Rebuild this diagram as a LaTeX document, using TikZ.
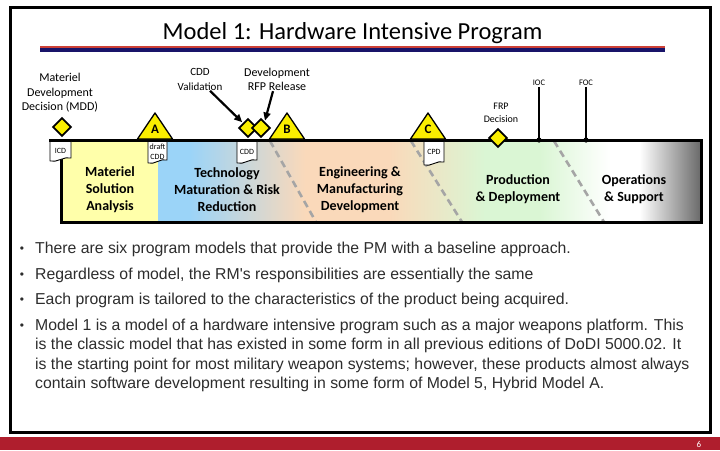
\documentclass[tikz,border=0pt]{standalone}
\usepackage{fontspec}
\setmainfont{Carlito}
\newfontfamily\arialf{Liberation Sans}
\usetikzlibrary{shapes.geometric,arrows.meta}
\definecolor{ylw}{RGB}{255,255,170}
\definecolor{msk}{RGB}{250,238,0}
\definecolor{blu}{RGB}{155,212,248}
\definecolor{pch}{RGB}{250,217,186}
\definecolor{grn}{RGB}{218,246,212}
\definecolor{dgry}{RGB}{105,105,105}
\definecolor{dashcol}{RGB}{165,165,165}
\definecolor{ttlred}{RGB}{205,65,55}
\definecolor{ttlnavy}{RGB}{25,20,105}
\definecolor{footred}{RGB}{175,30,45}
\definecolor{txtgray}{RGB}{45,45,45}
\tikzset{
  dashline/.style={draw=dashcol, line width=2.6pt, dash pattern=on 7pt off 4.5pt},
  flagstyle/.style={fill=white, draw=black, line width=0.9pt, line join=round},
  flagtxt/.style={font=\fontsize{8}{10}\selectfont, inner sep=0pt, align=center},
  tri/.style={fill=msk, draw=black, line width=1.3pt, line join=round},
  trilabel/.style={font=\bfseries\fontsize{13}{14}\selectfont, inner sep=0pt},
  ms/.style={diamond, aspect=1, draw=black, fill=msk, line width=1.8pt, minimum width=18.5pt, minimum height=18.5pt, inner sep=0pt},
  lbl/.style={font=\fontsize{12}{14.5}\selectfont, align=center, inner sep=0pt},
  lblsm/.style={font=\fontsize{11}{15}\selectfont, align=center, inner sep=0pt},
  lblfrp/.style={font=\fontsize{10}{13}\selectfont, align=center, inner sep=0pt},
  lbltiny/.style={font=\fontsize{8.5}{10}\selectfont, inner sep=1pt},
  arr/.style={line width=2.2pt, -{Triangle[length=8pt,width=7pt]}, shorten >=1pt},
  phase/.style={font=\bfseries\fontsize{14}{17}\selectfont, align=center, inner sep=0pt},
  phase2/.style={font=\bfseries\fontsize{14}{16.5}\selectfont, align=center, inner sep=0pt},
  bul/.style={font=\arialf\fontsize{15.8}{19}\selectfont, text=txtgray, anchor=base west, inner sep=0pt},
  buldot/.style={font=\arialf\fontsize{12}{14}\selectfont, text=txtgray, anchor=base, inner sep=0pt}
}
\newcommand\mkflag[3]{\draw[flagstyle] (#1,141.5) -- (#2,141.5) -- (#2,{#3-3}) .. controls ({#2-7},{#3-5}) and ({#1+7},{#3+2}) .. (#1,#3) -- cycle;}
\begin{document}
\begin{tikzpicture}[x=1pt,y=-1pt]
\useasboundingbox (0,0) rectangle (720,450);
\fill[white] (0,0) rectangle (720,450);
% frame and footer
\draw[line width=3pt] (10,7.5) rectangle (710,432);
\fill[footred] (0,437) rectangle (720,450);
\node[white, font=\fontsize{9}{10}\selectfont, inner sep=0pt] (pg) at (699,444) {6};
% title
\node[font=\fontsize{24.5}{28}\selectfont, anchor=base, inner sep=0pt] (title) at (352.5,39) {Model 1: Hardware Intensive Program};
\fill[ttlred] (40,45.5) rectangle (665,48);
\fill[ttlnavy] (40,48) rectangle (665,52);
% band fills
\fill[ylw] (61,140) rectangle (158,222);
\fill[blu] (158,140) rectangle (190,222);
\shade[left color=blu, right color=pch] (189.5,140) rectangle (305,222);
\fill[pch] (304.5,140) rectangle (390,222);
\shade[left color=pch, right color=grn] (389.5,140) rectangle (485,222);
\fill[grn] (484.5,140) rectangle (540,222);
\shade[left color=grn, right color=white] (539.5,140) rectangle (610,222);
\fill[white] (609.5,140) rectangle (640,222);
\shade[left color=white, right color=dgry] (639.5,140) rectangle (701,222);
% dashed phase separators
\draw[dashline] (270,141) -- (316,222);
\draw[dashline] (411,141) -- (462,222);
\draw[dashline] (554,141) -- (604,222);
% band outline
\draw[line width=3pt, line join=miter] (49,140) -- (701,140) -- (701,222) -- (61,222) -- (61,156);
% flags
\mkflag{50}{71}{161}
\mkflag{148}{167}{163}
\mkflag{237}{257}{163}
\mkflag{424}{444}{165}
\node[flagtxt] (icd) at (60.5,151) {ICD};
\node[flagtxt] (dcdd) at (157.5,151.5) {draft\\CDD};
\node[flagtxt] (cddf) at (247,152) {CDD};
\node[flagtxt] (cpd) at (434,152) {CPD};
% triangles
\draw[tri] (155,113) -- (172.5,139) -- (137.5,139) -- cycle;
\node[trilabel] (msA) at (155,129) {A};
\draw[tri] (287,113) -- (304.5,139) -- (269.5,139) -- cycle;
\node[trilabel] (msB) at (287,129) {B};
\draw[tri] (428,113) -- (445.5,139) -- (410.5,139) -- cycle;
\node[trilabel] (msC) at (428,129) {C};
% diamonds
\node[ms] (mdd) at (62,127) {};
\node[ms] (cddv) at (248,128) {};
\node[ms] (rfp) at (261,128) {};
\node[ms] (frp) at (498,138) {};
% labels
\node[lbl] (mddlbl) at (60,93) {Materiel\\Development\\Decision (MDD)};
\node[lblsm] (cddlbl) at (200,79.5) {CDD\\Validation};
\node[lbl] (rfplbl) at (277,79.5) {Development\\RFP Release};
\node[lblfrp] (frplbl) at (501,112.5) {FRP\\Decision};
\draw[arr] ([xshift=10pt]cddlbl.south) -- (cddv.north west);
\draw[arr] ([xshift=-4pt]rfplbl.south) -- (rfp.60);
% IOC / FOC
\node[lbltiny] (ioc) at (539,83) {IOC};
\node[lbltiny] (foc) at (586,83) {FOC};
\coordinate (iocpt) at (539,140);
\coordinate (focpt) at (586,140);
\draw[line width=1.6pt] (ioc.south) -- (iocpt);
\draw[line width=1.6pt] (foc.south) -- (focpt);
\fill (iocpt) circle (2.6);
\fill (focpt) circle (2.6);
% phase names
\node[phase] (msa) at (110,190) {Materiel\\Solution\\Analysis};
\node[phase] (tmrr) at (227,190) {Technology\\Maturation \& Risk\\Reduction};
\node[phase] (emd) at (360,190) {Engineering \&\\Manufacturing\\Development};
\node[phase2] (pd) at (518,189) {Production\\\& Deployment};
\node[phase2] (os) at (634,189) {Operations\\\& Support};
% bullets
\node[buldot] (d1) at (22,252) {•};
\node[buldot] (d2) at (22,278) {•};
\node[buldot] (d3) at (22,303) {•};
\node[buldot] (d4) at (22,329) {•};
\node[bul] (t1) at (35,253) {There are six program models that provide the PM with a baseline approach.};
\node[bul] (t2) at (35,279) {Regardless of model, the RM's responsibilities are essentially the same};
\node[bul] (t3) at (35,304) {Each program is tailored to the characteristics of the product being acquired.};
\node[bul] (t4a) at (35,330) {Model 1 is a model of a hardware intensive program such as a major weapons platform. This};
\node[bul] (t4b) at (35,349.5) {is the classic model that has existed in some form in all previous editions of DoDI 5000.02. It};
\node[bul] (t4c) at (35,369) {is the starting point for most military weapon systems; however, these products almost always};
\node[bul] (t4d) at (35,388.5) {contain software development resulting in some form of Model 5, Hybrid Model A.};
\end{tikzpicture}
\end{document}
